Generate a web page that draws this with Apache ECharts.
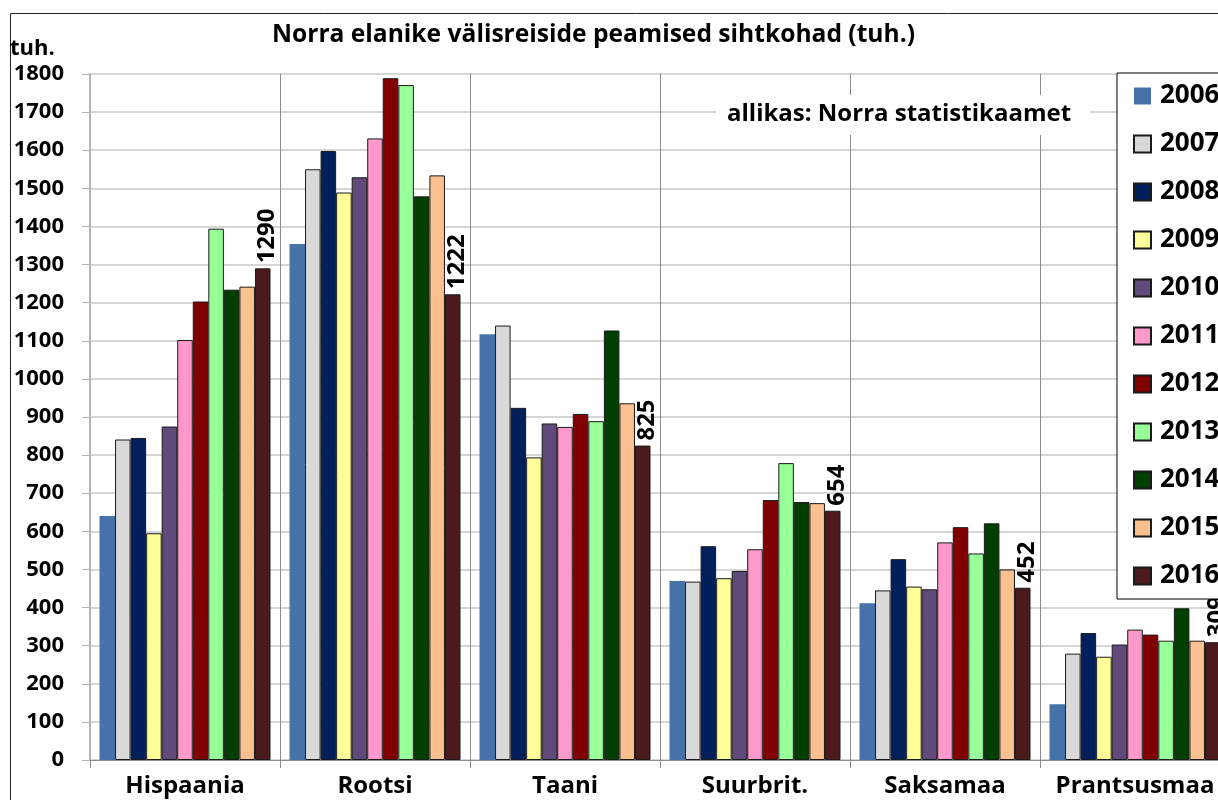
<!DOCTYPE html>
<html>
<head>
<meta charset="utf-8">
<script src="https://cdn.jsdelivr.net/npm/echarts@6/dist/echarts.min.js"></script>
<style>
html,body{margin:0;padding:0;overflow:hidden;background:#fff;width:1218px;height:800px;}
#c{width:1260px;height:800px;}
</style>
</head>
<body>
<div id="c"></div>
<script>
const categories = ['Hispaania', 'Rootsi', 'Taani', 'Suurbrit.', 'Saksamaa', 'Prantsusmaa'];
const years = ['2006', '2007', '2008', '2009', '2010', '2011', '2012', '2013', '2014', '2015', '2016'];
const v2006 = [640, 1354, 1117, 470, 411, 146];
const v2007 = [841, 1550, 1140, 468, 445, 279];
const v2008 = [845, 1598, 924, 561, 527, 333];
const v2009 = [595, 1489, 794, 477, 455, 271];
const v2010 = [875, 1529, 883, 496, 448, 303];
const v2011 = [1102, 1631, 874, 553, 571, 342];
const v2012 = [1203, 1789, 908, 682, 611, 329];
const v2013 = [1394, 1771, 889, 779, 542, 313];
const v2014 = [1234, 1479, 1127, 677, 621, 398];
const v2015 = [1242, 1534, 936, 674, 500, 313];
const v2016 = [1290, 1222, 825, 654, 452, 309];
const yTicks = {min: 0, max: 1800, interval: 100};
const colors = ['#4672a8', '#d9d9d9', '#001f5b', '#ffff99', '#604a7b', '#ff99cc', '#800000', '#99ff99', '#003f00', '#fac090', '#4a1a1c'];

const values = [v2006, v2007, v2008, v2009, v2010, v2011, v2012, v2013, v2014, v2015, v2016];
const FONT = '"Open Sans", "Liberation Sans", sans-serif';

const series = years.map((y, i) => {
  const s = {
    name: y,
    type: 'bar',
    data: values[i],
    barGap: '0%',
    barCategoryGap: '10%',
    itemStyle: {
      color: colors[i],
      borderColor: i === 0 ? colors[i] : '#1a1a1a',
      borderWidth: i === 0 ? 0 : 1
    },
    emphasis: {disabled: true}
  };
  if (i === years.length - 1) {
    s.label = {
      show: true,
      position: 'top',
      rotate: 90,
      align: 'left',
      verticalAlign: 'middle',
      distance: 5,
      offset: [0, 4],
      color: '#000',
      fontFamily: FONT,
      fontWeight: 'bold',
      fontSize: 24
    };
  }
  return s;
});

const chart = echarts.init(document.getElementById('c'), null, {renderer: 'canvas'});
chart.setOption({
  animation: false,
  backgroundColor: '#fff',
  grid: {left: 90, top: 74, right: 30, bottom: 40, containLabel: false},
  xAxis: {
    type: 'category',
    data: categories,
    boundaryGap: true,
    axisLine: {show: true, lineStyle: {color: '#8c8c8c', width: 1}},
    axisTick: {show: true, interval: 0, length: 8, lineStyle: {color: '#8c8c8c'}},
    splitLine: {show: true, interval: 0, lineStyle: {color: '#8c8c8c', width: 1}},
    axisLabel: {interval: 0, color: '#000', fontFamily: FONT, fontWeight: 'bold', fontSize: 24, margin: 14}
  },
  yAxis: {
    type: 'value',
    min: yTicks.min, max: yTicks.max, interval: yTicks.interval,
    axisLine: {show: true, lineStyle: {color: '#b4b4b4', width: 2}},
    axisTick: {show: true, length: 8, lineStyle: {color: '#b4b4b4'}},
    splitLine: {show: true, lineStyle: {color: '#c8c8c8', width: 1.5}},
    axisLabel: {color: '#000', fontFamily: FONT, fontWeight: 'bold', fontSize: 22, margin: 26,
      formatter: v => String(v)}
  },
  legend: {
    orient: 'vertical',
    left: 1117,
    top: 73,
    data: years,
    itemWidth: 17,
    itemHeight: 17,
    itemGap: 22,
    icon: 'rect',
    padding: [10, 40, 10, 16],
    borderColor: '#000',
    borderWidth: 1,
    backgroundColor: '#fff',
    selectedMode: false,
    textStyle: {color: '#000', fontFamily: FONT, fontWeight: 'bold', fontSize: 26, lineHeight: 24, padding: [0, 0, 0, 4]}
  },
  graphic: [
    {
      type: 'rect', z: 100, silent: true,
      shape: {x: 10.5, y: 13.5, width: 1400, height: 1000},
      style: {fill: 'none', stroke: '#222', lineWidth: 1}
    },
    {
      type: 'text', z: 100, left: 272, top: 22,
      style: {text: 'Norra elanike välisreiside peamised sihtkohad (tuh.)', fill: '#000',
        font: 'bold 24.6px ' + FONT}
    },
    {
      type: 'text', z: 100, left: 10, top: 38,
      style: {text: 'tuh.', fill: '#000', font: 'bold 22px ' + FONT}
    },
    {
      type: 'rect', z: 90, silent: true,
      shape: {x: 716, y: 95, width: 374, height: 40},
      style: {fill: '#fff'}
    },
    {
      type: 'text', z: 100, left: 727, top: 102,
      style: {text: 'allikas: Norra statistikaamet', fill: '#000', font: 'bold 24px ' + FONT}
    }
  ],
  series: series
});
</script>
</body>
</html>
